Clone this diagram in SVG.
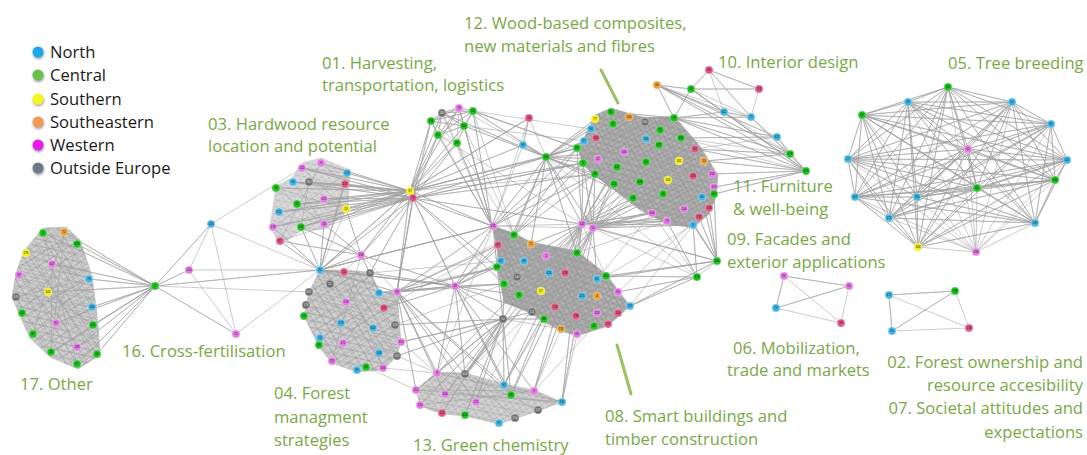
<svg xmlns="http://www.w3.org/2000/svg" width="1087" height="455" viewBox="0 0 1087 455">
<style>
.lbl{font-family:'Open Sans','Liberation Sans',sans-serif;font-size:16.6px;fill:#79a846}
.leg{font-family:'Open Sans','Liberation Sans',sans-serif;font-size:16.6px;fill:#1a1a1a}
.e{stroke:#a0a0a0;stroke-width:0.55;fill:none}
.hull{stroke:#b4b4b4;stroke-width:0.5}
.nd circle{r:4;stroke:#fff;stroke-width:0.3}
.nd text{font-family:'Liberation Sans',sans-serif;font-size:3px;text-anchor:middle;fill:#1a1a1a}
.g circle{fill:#1ec31e}.b circle{fill:#42b7e6}.m circle{fill:#e57ae6}.r circle{fill:#e0577f}.o circle{fill:#eea23c}.y circle{fill:#f3ee18}.k circle{fill:#6f6f6f}
.k text{fill:#e0e0e0}
.ptr{stroke:#9cc064;stroke-width:3;stroke-linecap:round}
</style>
<defs>
<pattern id="pd" width="6" height="6" patternUnits="userSpaceOnUse" patternTransform="rotate(17)"><rect width="6" height="6" fill="#b2b2b2"/><path d="M0 0L6 6M6 0L0 6M0 3H6" stroke="#888" stroke-width="0.5"/></pattern>
<pattern id="pr" width="9" height="9" patternUnits="userSpaceOnUse" patternTransform="rotate(-31)"><path d="M0 0L9 9M0 4.5H9M4.5 0V9" stroke="#959595" stroke-width="0.45" fill="none"/></pattern>
<pattern id="pl" width="7" height="7" patternUnits="userSpaceOnUse" patternTransform="rotate(11)"><rect width="7" height="7" fill="#d2d2d2"/><path d="M0 0L7 7M7 0L0 7M0 3.5H7" stroke="#a0a0a0" stroke-width="0.5"/></pattern>
<filter id="sh" x="-50%" y="-50%" width="200%" height="200%"><feDropShadow dx="0.5" dy="1.5" stdDeviation="1" flood-color="#555" flood-opacity="0.6"/></filter>
</defs>
<rect width="1087" height="455" fill="#fff"/>

<g id="legend">
<g filter="url(#sh)">
<circle cx="38" cy="52" r="5.5" fill="#1aa7ec"/>
<circle cx="38" cy="75" r="5.5" fill="#6cc04a"/>
<circle cx="38" cy="99" r="5.5" fill="#f4f41a"/>
<circle cx="38" cy="122" r="5.5" fill="#f09a56"/>
<circle cx="38" cy="145" r="5.5" fill="#e81ee8"/>
<circle cx="38" cy="168" r="5.5" fill="#6a7a8a"/>
</g>
<text class="leg" x="50" y="58">North</text>
<text class="leg" x="50" y="81">Central</text>
<text class="leg" x="50" y="105">Southern</text>
<text class="leg" x="50" y="128">Southeastern</text>
<text class="leg" x="50" y="151">Western</text>
<text class="leg" x="50" y="174">Outside Europe</text>
</g>

<g id="clusters">
<polygon class="hull" fill="url(#pl)" points="43,228 66,227 80,240 92,276 96,306 98,325 100,355 78,369 50,357 30,338 19,314 12,297 16,273 24,251"/>
<polygon fill="url(#pr)" points="43,228 66,227 80,240 92,276 96,306 98,325 100,355 78,369 50,357 30,338 19,314 12,297 16,273 24,251"/>
<polygon class="hull" fill="url(#pl)" opacity="0.8" points="302,163 321,158 350,170 348,210 326,229 301,231 280,245 270,227 276,186 292,178"/>
<polygon class="hull" fill="url(#pd)" points="577,146 584,138 595,115 611,108 645,118 674,116 700,146 718,175 716,197 709,214 693,228 667,224 640,210 614,190 595,176 583,165"/>
<polygon fill="url(#pr)" points="577,146 584,138 595,115 611,108 645,118 674,116 700,146 718,175 716,197 709,214 693,228 667,224 640,210 614,190 595,176 583,165"/>
<polygon class="hull" fill="url(#pd)" points="493,226 514,233 531,242 577,251 606,274 630,306 608,326 577,336 561,331 544,322 532,314 504,302 497,267 498,245"/>
<polygon fill="url(#pr)" points="493,226 514,233 531,242 577,251 606,274 630,306 608,326 577,336 561,331 544,322 532,314 504,302 497,267 498,245"/>
<polygon class="hull" fill="url(#pl)" points="309,292 320,270 344,270 370,272 380,292 397,292 401,342 397,356 383,370 357,372 332,363 319,347 304,316"/>
<polygon fill="url(#pr)" points="309,292 320,270 344,270 370,272 380,292 397,292 401,342 397,356 383,370 357,372 332,363 319,347 304,316"/>
<polygon class="hull" fill="url(#pl)" points="437,372 465,373 504,384 534,390 562,402 538,411 499,424 465,416 442,414 420,406 416,390"/>
</g>

<g id="connectors" class="e">
<path d="M155 286L43 233 155 286 64 232 155 286 77 244 155 286 52 264 155 286 89 279 155 286 48 292 155 286 92 307 155 286 56 323 155 286 93 325 155 286 97 354 155 286 77 364 155 286 77 347 155 286 51 352 155 286 211 224 155 286 189 270 155 286 236 334 155 286 320 270 155 286 309 292M211 224L189 270 236 334M211 224L236 334M211 224L320 270M189 270L320 270M236 334L320 270M211 224L302 168"/>
<path d="M43 233L77 364M64 232L33 334M26 253L97 354M19 275L93 325M89 279L22 313M16 297L92 307M52 264L51 352M77 244L26 253M48 292L93 325M43 233L92 307M64 232L51 352M77 244L22 313M26 253L89 279M19 275L77 347M16 297L89 279M56 323L77 244M33 334L89 279"/>
<path d="M410 191L302 168 410 191 321 163 410 191 347 173 410 191 293 182 410 191 309 182 410 191 345 184 410 191 276 188 410 191 324 199 410 191 297 204 410 191 346 209 410 191 279 212 410 191 324 224 410 191 301 227 410 191 273 227M413 198L302 168 413 198 293 182 413 198 345 184 413 198 324 199 413 198 297 204 413 198 346 209 413 198 279 212 413 198 324 224 413 198 301 227 413 198 273 227 413 198 280 241"/>
<path d="M302 168L346 209M321 163L280 241M293 182L324 224M347 173L273 227M276 188L346 209M309 182L301 227M302 168L347 173M321 163L345 184M290 182L345 184M276 188L324 224"/>
<path d="M320 270L280 241 320 270 301 227 320 270 324 224 320 270 273 227 320 270 346 209M361 255L324 224 361 255 346 209 361 255 301 227 361 255 280 241 361 255 410 191 361 255 413 198"/>
<path d="M410 191L431 121 410 191 438 135 410 191 442 113 410 191 457 143 410 191 464 126 410 191 459 108 410 191 546 157 410 191 523 145 410 191 529 118 410 191 577 148 410 191 583 163 410 191 492 226 410 191 320 270M413 198L431 121 413 198 438 135 413 198 457 143 413 198 546 157 413 198 492 226 413 198 455 286 413 198 397 292 413 198 504 284 413 198 497 267 413 198 583 163 413 198 595 174 413 198 582 224 413 198 370 273 413 198 361 255"/>
<path d="M442 113L459 108 442 113 473 111 442 113 431 121 442 113 464 126 442 113 438 135 442 113 457 143M459 108L473 111 459 108 431 121 459 108 464 126 459 108 438 135 459 108 457 143M473 111L431 121 473 111 464 126 473 111 438 135 473 111 457 143M431 121L464 126 431 121 438 135 431 121 457 143M464 126L438 135 464 126 457 143M438 135L457 143"/>
<path d="M473 111L546 157 473 111 577 148 473 111 492 226 473 111 514 235M459 108L492 226 459 108 546 157M464 126L492 226 464 126 546 157 464 126 514 235M457 143L492 226 457 143 514 235M438 135L492 226 438 135 582 224M431 121L492 226M442 113L546 157 442 113 492 226"/>
<path d="M529 118L523 145 529 118 546 157 523 145 546 157M529 118L492 226M523 145L492 226M529 118L410 191"/>
<path d="M546 157L577 148 546 157 583 163 546 157 584 141 546 157 591 129 546 157 595 119 546 157 611 112 546 157 595 174 546 157 598 159 546 157 614 184 546 157 633 198 546 157 624 152 546 157 582 224 546 157 593 228 546 157 492 226 546 157 514 235 546 157 531 244 546 157 577 253 546 157 501 261 546 157 697 277M577 148L473 111M584 141L464 126M591 129L473 111M583 163L413 198M595 174L410 191"/>
<path d="M582 224L583 163 582 224 595 174 582 224 614 184 582 224 633 198 582 224 652 213 582 224 667 221 582 224 598 159 582 224 624 152 582 224 617 167 582 224 640 182 582 224 663 194 582 224 646 162 582 224 577 148 582 224 693 225 582 224 699 217 582 224 684 209M593 228L583 163 593 228 595 174 593 228 614 184 593 228 633 198 593 228 652 213 593 228 667 221 593 228 640 182 593 228 663 194 593 228 693 225 593 228 702 197 593 228 709 208 593 228 668 180 593 228 617 167 593 228 646 162"/>
<path d="M582 224L437 373 582 224 465 374 582 224 504 385 582 224 511 395 582 224 534 391 582 224 562 402 582 224 476 402M593 228L465 374 593 228 504 385 593 228 534 391 593 228 562 402 593 228 511 395 593 228 445 394M582 224L531 244 582 224 546 256 582 224 577 253 582 224 524 261 582 224 549 273 582 224 606 276M593 228L597 279 593 228 577 253 593 228 546 256M582 224L493 226M593 228L493 226M593 228L717 261 593 228 697 277M582 224L717 261"/>
<path d="M493 226L514 235 493 226 498 245 493 226 531 244 493 226 501 261 493 226 497 267 493 226 524 261 493 226 546 256 493 226 504 284 493 226 517 277 493 226 541 291 493 226 519 295 493 226 583 163 493 226 577 148 493 226 595 174 493 226 397 292 493 226 455 286 493 226 320 270 493 226 437 373M514 235L577 148 514 235 583 163 514 235 595 174 514 235 455 286 514 235 397 292"/>
<path d="M397 292L437 373 397 292 465 374 397 292 416 390 397 292 445 394 397 292 504 385 397 292 511 395 397 292 476 402 397 292 455 286 397 292 497 267 397 292 504 284 397 292 498 245 397 292 546 256 397 292 413 198 397 292 410 191 397 292 361 255"/>
<path d="M455 286L498 245 455 286 497 267 455 286 504 284 455 286 519 295 455 286 532 312 455 286 501 261 455 286 437 373 455 286 465 374 455 286 504 385 455 286 534 391 455 286 511 395 455 286 370 273 455 286 379 293 455 286 384 308 455 286 320 270 455 286 361 255 455 286 413 198"/>
<path d="M320 270L413 198 320 270 410 191 320 270 493 226 320 270 397 292 320 270 455 286 320 270 361 255 320 270 347 173 320 270 345 184"/>
<path d="M503 319L437 373 503 319 465 374 503 319 416 390 503 319 445 394 503 319 420 405 503 319 476 402 503 319 504 385 503 319 511 395 503 319 442 413 503 319 465 415 503 319 401 342 503 319 395 325 503 319 397 356 503 319 455 286 503 319 497 267 503 319 504 284 503 319 519 295 503 319 532 312 503 319 544 319 503 319 561 329"/>
<path d="M532 312L465 374M544 319L504 385M561 329L534 391M577 334L562 402M594 326L534 391M397 356L437 373M401 342L437 373M383 368L437 373M366 367L416 390M379 293L497 267M384 308L498 245M395 325L504 284M370 273L501 261M401 342L503 319"/>
<path d="M437 373L562 402M416 390L562 402M465 374L538 410M420 405L534 391M437 373L499 423M445 394L562 402M416 390L534 391M465 374L515 418M437 373L465 374M416 390L437 373M420 405L442 413M504 385L562 402"/>
<path d="M320 270L397 356M361 255L332 361M344 272L383 368M309 292L401 342M370 273L319 345M379 293L332 361M306 305L397 356M361 255L344 272M361 255L370 273M320 270L344 272M361 255L379 293"/>
<path d="M717 261L714 194 717 261 709 208 717 261 693 225 717 261 702 197 717 261 699 217 717 261 684 209 717 261 606 276 717 261 597 279 717 261 630 306 717 261 697 277M697 277L693 225 697 277 667 221 697 277 606 276 697 277 630 306 697 277 618 292 697 277 652 213M606 276L693 225M630 306L693 225M618 292L699 217M597 279L652 213M577 253L667 221"/>
<path d="M709 70L691 89 709 70 759 89 709 70 751 117 709 70 724 112M691 89L759 89 691 89 657 85 691 89 674 118 691 89 724 112 691 89 806 171 691 89 751 117M759 89L751 117M657 85L674 118 657 85 777 137 657 85 790 154 657 85 806 171 657 85 724 112 657 85 751 117M674 118L724 112 674 118 751 117 674 118 777 137 674 118 790 154 674 118 806 171 674 118 611 112 674 118 629 117 674 118 660 130 674 118 681 138 674 118 646 139 674 118 584 141 674 118 546 157M724 112L751 117 724 112 806 171 724 112 790 154M751 117L806 171 751 117 790 154M777 137L790 154 777 137 806 171M790 154L806 171M806 171L695 149 806 171 704 161 806 171 712 174 806 171 714 187 806 171 714 194 806 171 681 138M790 154L695 149 790 154 704 161 790 154 681 138M777 137L681 138 777 137 695 149"/>
<path d="M948 87L908 102 948 87 1012 102 948 87 862 115 948 87 1051 124 948 87 968 149 948 87 848 159 948 87 1067 160 948 87 1055 180 948 87 977 188 948 87 855 197 948 87 917 197 948 87 889 218 948 87 1035 223 948 87 918 247 948 87 976 252M908 102L1012 102 908 102 862 115 908 102 1051 124 908 102 968 149 908 102 848 159 908 102 1067 160 908 102 1055 180 908 102 977 188 908 102 855 197 908 102 917 197 908 102 889 218 908 102 1035 223 908 102 918 247 908 102 976 252M1012 102L862 115 1012 102 1051 124 1012 102 968 149 1012 102 848 159 1012 102 1067 160 1012 102 1055 180 1012 102 977 188 1012 102 855 197 1012 102 917 197 1012 102 889 218 1012 102 1035 223 1012 102 918 247 1012 102 976 252M862 115L1051 124 862 115 968 149 862 115 848 159 862 115 1067 160 862 115 1055 180 862 115 977 188 862 115 855 197 862 115 917 197 862 115 889 218 862 115 1035 223 862 115 918 247 862 115 976 252M1051 124L968 149 1051 124 848 159 1051 124 1067 160 1051 124 1055 180 1051 124 977 188 1051 124 855 197 1051 124 917 197 1051 124 889 218 1051 124 1035 223 1051 124 918 247 1051 124 976 252M968 149L848 159 968 149 1067 160 968 149 1055 180 968 149 977 188 968 149 855 197 968 149 917 197 968 149 889 218 968 149 1035 223 968 149 918 247 968 149 976 252M848 159L1067 160 848 159 1055 180 848 159 977 188 848 159 855 197 848 159 917 197 848 159 889 218 848 159 1035 223 848 159 918 247 848 159 976 252M1067 160L1055 180 1067 160 977 188 1067 160 855 197 1067 160 917 197 1067 160 889 218 1067 160 1035 223 1067 160 918 247 1067 160 976 252M1055 180L977 188 1055 180 855 197 1055 180 917 197 1055 180 889 218 1055 180 1035 223 1055 180 918 247 1055 180 976 252M977 188L855 197 977 188 917 197 977 188 889 218 977 188 1035 223 977 188 918 247 977 188 976 252M855 197L917 197 855 197 889 218 855 197 1035 223 855 197 918 247 855 197 976 252M917 197L889 218 917 197 1035 223 917 197 918 247 917 197 976 252M889 218L1035 223 889 218 918 247 889 218 976 252M1035 223L918 247 1035 223 976 252M918 247L976 252"/>
<path d="M784 276L849 286 784 276 776 308 784 276 841 323M849 286L776 308 849 286 841 323M776 308L841 323"/>
<path d="M889 295L955 291 889 295 892 331 889 295 969 328M955 291L892 331 955 291 969 328M892 331L969 328"/>
</g>

<g id="nodes">
<g id="n17-0" class="nd g"><circle cx="43" cy="233"/><text x="43" y="234">0</text></g>
<g id="n17-72" class="nd o"><circle cx="64" cy="232"/><text x="64" y="233">72</text></g>
<g id="n17-618" class="nd g"><circle cx="77" cy="244"/><text x="77" y="245">618</text></g>
<g id="n17-176" class="nd y"><circle cx="26" cy="253"/><text x="26" y="254">176</text></g>
<g id="n17-647" class="nd m"><circle cx="52" cy="264"/><text x="52" y="265">647</text></g>
<g id="n17-37" class="nd m"><circle cx="19" cy="275"/><text x="19" y="276">37</text></g>
<g id="n17-73" class="nd b"><circle cx="89" cy="279"/><text x="89" y="280">73</text></g>
<g id="n17-676" class="nd k"><circle cx="16" cy="297"/><text x="16" y="298">676</text></g>
<g id="n17-102" class="nd y"><circle cx="48" cy="292"/><text x="48" y="293">102</text></g>
<g id="n17-104" class="nd b"><circle cx="92" cy="307"/><text x="92" y="308">104</text></g>
<g id="n17-40" class="nd g"><circle cx="22" cy="313"/><text x="22" y="314">40</text></g>
<g id="n17-91" class="nd m"><circle cx="56" cy="323"/><text x="56" y="324">91</text></g>
<g id="n17-620" class="nd g"><circle cx="93" cy="325"/><text x="93" y="326">620</text></g>
<g id="n17-47" class="nd g"><circle cx="33" cy="334"/><text x="33" y="335">47</text></g>
<g id="n17-26" class="nd g"><circle cx="51" cy="352"/><text x="51" y="353">26</text></g>
<g id="n17-138" class="nd m"><circle cx="77" cy="347"/><text x="77" y="348">138</text></g>
<g id="n17-19" class="nd g"><circle cx="97" cy="354"/><text x="97" y="355">19</text></g>
<g id="n17-67" class="nd g"><circle cx="77" cy="364"/><text x="77" y="365">67</text></g>
<g id="n16-2" class="nd g"><circle cx="155" cy="286"/><text x="155" y="287">2</text></g>
<g id="n16-144" class="nd b"><circle cx="211" cy="224"/><text x="211" y="225">144</text></g>
<g id="n16-120" class="nd m"><circle cx="189" cy="270"/><text x="189" y="271">120</text></g>
<g id="n16-15" class="nd m"><circle cx="236" cy="334"/><text x="236" y="335">15</text></g>

<g id="n03-141" class="nd m"><circle cx="302" cy="168"/><text x="302" y="169">141</text></g>
<g id="n03-9" class="nd m"><circle cx="321" cy="163"/><text x="321" y="164">9</text></g>
<g id="n03-174" class="nd b"><circle cx="347" cy="173"/><text x="347" y="174">174</text></g>
<g id="n03-90" class="nd b"><circle cx="293" cy="182"/><text x="293" y="183">90</text></g>
<g id="n03-180" class="nd k"><circle cx="309" cy="182"/><text x="309" y="183">180</text></g>
<g id="n03-157" class="nd r"><circle cx="345" cy="184"/><text x="345" y="185">157</text></g>
<g id="n03-78" class="nd g"><circle cx="276" cy="188"/><text x="276" y="189">78</text></g>
<g id="n03-611" class="nd m"><circle cx="324" cy="199"/><text x="324" y="200">611</text></g>
<g id="n03-24a" class="nd g"><circle cx="297" cy="204"/><text x="297" y="205">24</text></g>
<g id="n03-24b" class="nd y"><circle cx="346" cy="209"/><text x="346" y="210">24</text></g>
<g id="n03-615" class="nd b"><circle cx="279" cy="212"/><text x="279" y="213">615</text></g>
<g id="n03-18" class="nd m"><circle cx="324" cy="224"/><text x="324" y="225">18</text></g>
<g id="n03-145" class="nd g"><circle cx="301" cy="227"/><text x="301" y="228">145</text></g>
<g id="n03-179" class="nd m"><circle cx="273" cy="227"/><text x="273" y="228">179</text></g>
<g id="n03-87" class="nd r"><circle cx="280" cy="241"/><text x="280" y="242">87</text></g>
<g id="n-27" class="nd y"><circle cx="410" cy="191"/><text x="410" y="192">27</text></g>
<g id="n-75r" class="nd r"><circle cx="413" cy="198"/><text x="413" y="199">75</text></g>

<g id="n01-182" class="nd k"><circle cx="442" cy="113"/><text x="442" y="114">182</text></g>
<g id="n01-78" class="nd m"><circle cx="459" cy="108"/><text x="459" y="109">78</text></g>
<g id="n01-80" class="nd g"><circle cx="473" cy="111"/><text x="473" y="112">80</text></g>
<g id="n01-136" class="nd g"><circle cx="431" cy="121"/><text x="431" y="122">136</text></g>
<g id="n01-600" class="nd g"><circle cx="464" cy="126"/><text x="464" y="127">600</text></g>
<g id="n01-60" class="nd g"><circle cx="438" cy="135"/><text x="438" y="136">60</text></g>
<g id="n01-83" class="nd g"><circle cx="457" cy="143"/><text x="457" y="144">83</text></g>
<g id="n-28r" class="nd r"><circle cx="529" cy="118"/><text x="529" y="119">28</text></g>
<g id="n-98b" class="nd b"><circle cx="523" cy="145"/><text x="523" y="146">98</text></g>
<g id="n-159" class="nd g"><circle cx="546" cy="157"/><text x="546" y="158">159</text></g>

<g id="n12-81" class="nd g"><circle cx="611" cy="112"/><text x="611" y="113">81</text></g>
<g id="n12-77" class="nd y"><circle cx="595" cy="119"/><text x="595" y="120">77</text></g>
<g id="n12-604" class="nd o"><circle cx="629" cy="117"/><text x="629" y="118">604</text></g>
<g id="n12-605" class="nd k"><circle cx="645" cy="122"/><text x="645" y="123">605</text></g>
<g id="n12-78" class="nd g"><circle cx="674" cy="118"/><text x="674" y="119">78</text></g>
<g id="n12-32" class="nd g"><circle cx="613" cy="124"/><text x="613" y="125">32</text></g>
<g id="n12-94" class="nd b"><circle cx="591" cy="129"/><text x="591" y="130">94</text></g>
<g id="n12-161" class="nd r"><circle cx="596" cy="138"/><text x="596" y="139">161</text></g>
<g id="n12-37" class="nd b"><circle cx="584" cy="141"/><text x="584" y="142">37</text></g>
<g id="n12-75" class="nd g"><circle cx="660" cy="130"/><text x="660" y="131">75</text></g>
<g id="n12-700" class="nd b"><circle cx="646" cy="139"/><text x="646" y="140">700</text></g>
<g id="n12-602" class="nd g"><circle cx="681" cy="138"/><text x="681" y="139">602</text></g>
<g id="n12-83" class="nd g"><circle cx="577" cy="148"/><text x="577" y="149">83</text></g>
<g id="n12-627" class="nd g"><circle cx="659" cy="145"/><text x="659" y="146">627</text></g>
<g id="n12-100" class="nd m"><circle cx="624" cy="152"/><text x="624" y="153">100</text></g>
<g id="n12-82" class="nd r"><circle cx="695" cy="149"/><text x="695" y="150">82</text></g>
<g id="n12-5" class="nd g"><circle cx="583" cy="163"/><text x="583" y="164">5</text></g>
<g id="n12-21" class="nd m"><circle cx="598" cy="159"/><text x="598" y="160">21</text></g>
<g id="n12-127" class="nd g"><circle cx="617" cy="167"/><text x="617" y="168">127</text></g>
<g id="n12-50" class="nd g"><circle cx="646" cy="162"/><text x="646" y="163">50</text></g>
<g id="n12-161y" class="nd y"><circle cx="679" cy="161"/><text x="679" y="162">161</text></g>
<g id="n12-53" class="nd o"><circle cx="704" cy="161"/><text x="704" y="162">53</text></g>
<g id="n12-38" class="nd g"><circle cx="595" cy="174"/><text x="595" y="175">38</text></g>
<g id="n12-163" class="nd r"><circle cx="693" cy="176"/><text x="693" y="177">163</text></g>
<g id="n12-153" class="nd m"><circle cx="712" cy="174"/><text x="712" y="175">153</text></g>
<g id="n12-120" class="nd g"><circle cx="614" cy="184"/><text x="614" y="185">120</text></g>
<g id="n12-626" class="nd g"><circle cx="640" cy="182"/><text x="640" y="183">626</text></g>
<g id="n12-102" class="nd y"><circle cx="668" cy="180"/><text x="668" y="181">102</text></g>
<g id="n12-179" class="nd m"><circle cx="714" cy="187"/><text x="714" y="188">179</text></g>
<g id="n12-58" class="nd g"><circle cx="633" cy="198"/><text x="633" y="199">58</text></g>
<g id="n12-56" class="nd g"><circle cx="663" cy="194"/><text x="663" y="195">56</text></g>
<g id="n12-46" class="nd b"><circle cx="702" cy="197"/><text x="702" y="198">46</text></g>
<g id="n12-60" class="nd g"><circle cx="714" cy="194"/><text x="714" y="195">60</text></g>
<g id="n12-106" class="nd m"><circle cx="684" cy="209"/><text x="684" y="210">106</text></g>
<g id="n12-108" class="nd r"><circle cx="709" cy="208"/><text x="709" y="209">108</text></g>
<g id="n12-604m" class="nd m"><circle cx="652" cy="213"/><text x="652" y="214">604</text></g>
<g id="n12-73" class="nd m"><circle cx="667" cy="221"/><text x="667" y="222">73</text></g>
<g id="n12-152" class="nd r"><circle cx="699" cy="217"/><text x="699" y="218">152</text></g>
<g id="n12-6" class="nd b"><circle cx="693" cy="225"/><text x="693" y="226">6</text></g>
<g id="n-142" class="nd m"><circle cx="582" cy="224"/><text x="582" y="225">142</text></g>
<g id="n-51" class="nd m"><circle cx="593" cy="228"/><text x="593" y="229">51</text></g>

<g id="n10-66r" class="nd r"><circle cx="709" cy="70"/><text x="709" y="71">66</text></g>
<g id="n10-66o" class="nd o"><circle cx="657" cy="85"/><text x="657" y="86">66</text></g>
<g id="n10-23" class="nd g"><circle cx="691" cy="89"/><text x="691" y="90">23</text></g>
<g id="n10-158" class="nd r"><circle cx="759" cy="89"/><text x="759" y="90">158</text></g>
<g id="n10-612" class="nd b"><circle cx="724" cy="112"/><text x="724" y="113">612</text></g>
<g id="n10-75" class="nd b"><circle cx="751" cy="117"/><text x="751" y="118">75</text></g>
<g id="n10-611" class="nd b"><circle cx="777" cy="137"/><text x="777" y="138">611</text></g>
<g id="n11-178" class="nd g"><circle cx="790" cy="154"/><text x="790" y="155">178</text></g>
<g id="n11-619" class="nd g"><circle cx="806" cy="171"/><text x="806" y="172">619</text></g>
<g id="n09-604" class="nd g"><circle cx="717" cy="261"/><text x="717" y="262">604</text></g>
<g id="n09-118" class="nd g"><circle cx="697" cy="277"/><text x="697" y="278">118</text></g>

<g id="n08-132" class="nd m"><circle cx="493" cy="226"/><text x="493" y="227">132</text></g>
<g id="n08-61" class="nd g"><circle cx="514" cy="235"/><text x="514" y="236">61</text></g>
<g id="n08-87" class="nd r"><circle cx="498" cy="245"/><text x="498" y="246">87</text></g>
<g id="n08-71o" class="nd o"><circle cx="531" cy="244"/><text x="531" y="245">71</text></g>
<g id="n08-2" class="nd m"><circle cx="546" cy="256"/><text x="546" y="257">2</text></g>
<g id="n08-62g" class="nd g"><circle cx="577" cy="253"/><text x="577" y="254">62</text></g>
<g id="n08-62b" class="nd b"><circle cx="501" cy="261"/><text x="501" y="262">62</text></g>
<g id="n08-49" class="nd b"><circle cx="524" cy="261"/><text x="524" y="262">49</text></g>
<g id="n08-139" class="nd g"><circle cx="497" cy="267"/><text x="497" y="268">139</text></g>
<g id="n08-624" class="nd b"><circle cx="549" cy="273"/><text x="549" y="274">624</text></g>
<g id="n08-138" class="nd r"><circle cx="565" cy="273"/><text x="565" y="274">138</text></g>
<g id="n08-140" class="nd k"><circle cx="517" cy="277"/><text x="517" y="278">140</text></g>
<g id="n08-65" class="nd b"><circle cx="597" cy="279"/><text x="597" y="280">65</text></g>
<g id="n08-110" class="nd g"><circle cx="606" cy="276"/><text x="606" y="277">110</text></g>
<g id="n08-75" class="nd g"><circle cx="504" cy="284"/><text x="504" y="285">75</text></g>
<g id="n08-67" class="nd y"><circle cx="541" cy="291"/><text x="541" y="292">67</text></g>
<g id="n08-71g" class="nd g"><circle cx="519" cy="295"/><text x="519" y="296">71</text></g>
<g id="n08-113" class="nd b"><circle cx="582" cy="296"/><text x="582" y="297">113</text></g>
<g id="n08-4" class="nd o"><circle cx="597" cy="296"/><text x="597" y="297">4</text></g>
<g id="n08-95a" class="nd m"><circle cx="618" cy="292"/><text x="618" y="293">95</text></g>
<g id="n08-124" class="nd r"><circle cx="555" cy="307"/><text x="555" y="308">124</text></g>
<g id="n08-157" class="nd b"><circle cx="630" cy="306"/><text x="630" y="307">157</text></g>
<g id="n08-121" class="nd k"><circle cx="532" cy="312"/><text x="532" y="313">121</text></g>
<g id="n08-118" class="nd m"><circle cx="597" cy="313"/><text x="597" y="314">118</text></g>
<g id="n08-106" class="nd r"><circle cx="618" cy="313"/><text x="618" y="314">106</text></g>
<g id="n08-96" class="nd g"><circle cx="544" cy="319"/><text x="544" y="320">96</text></g>
<g id="n08-136" class="nd r"><circle cx="576" cy="316"/><text x="576" y="317">136</text></g>
<g id="n08-127" class="nd r"><circle cx="608" cy="324"/><text x="608" y="325">127</text></g>
<g id="n08-42" class="nd g"><circle cx="594" cy="326"/><text x="594" y="327">42</text></g>
<g id="n08-152" class="nd o"><circle cx="561" cy="329"/><text x="561" y="330">152</text></g>
<g id="n08-95b" class="nd m"><circle cx="577" cy="334"/><text x="577" y="335">95</text></g>
<g id="n08-54" class="nd k"><circle cx="503" cy="319"/><text x="503" y="320">54</text></g>

<g id="n04-158" class="nd m"><circle cx="361" cy="255"/><text x="361" y="256">158</text></g>
<g id="n04-40" class="nd b"><circle cx="320" cy="270"/><text x="320" y="271">40</text></g>
<g id="n04-50" class="nd r"><circle cx="344" cy="272"/><text x="344" y="273">50</text></g>
<g id="n04-26k" class="nd k"><circle cx="370" cy="273"/><text x="370" y="274">26</text></g>
<g id="n04-21" class="nd k"><circle cx="330" cy="284"/><text x="330" y="285">21</text></g>
<g id="n04-12" class="nd b"><circle cx="379" cy="293"/><text x="379" y="294">12</text></g>
<g id="n04-98" class="nd m"><circle cx="397" cy="292"/><text x="397" y="293">98</text></g>
<g id="n04-28" class="nd m"><circle cx="455" cy="286"/><text x="455" y="287">28</text></g>
<g id="n04-607" class="nd k"><circle cx="309" cy="292"/><text x="309" y="293">607</text></g>
<g id="n04-170" class="nd m"><circle cx="346" cy="302"/><text x="346" y="303">170</text></g>
<g id="n04-101" class="nd r"><circle cx="384" cy="308"/><text x="384" y="309">101</text></g>
<g id="n04-174" class="nd k"><circle cx="306" cy="305"/><text x="306" y="306">174</text></g>
<g id="n04-26g" class="nd g"><circle cx="304" cy="316"/><text x="304" y="317">26</text></g>
<g id="n04-173" class="nd b"><circle cx="341" cy="323"/><text x="341" y="324">173</text></g>
<g id="n04-602" class="nd b"><circle cx="373" cy="328"/><text x="373" y="329">602</text></g>
<g id="n04-120" class="nd k"><circle cx="395" cy="325"/><text x="395" y="326">120</text></g>
<g id="n04-14" class="nd b"><circle cx="320" cy="338"/><text x="320" y="339">14</text></g>
<g id="n04-66" class="nd g"><circle cx="319" cy="345"/><text x="319" y="346">66</text></g>
<g id="n04-171" class="nd m"><circle cx="343" cy="343"/><text x="343" y="344">171</text></g>
<g id="n04-114" class="nd m"><circle cx="401" cy="342"/><text x="401" y="343">114</text></g>
<g id="n04-104" class="nd b"><circle cx="379" cy="353"/><text x="379" y="354">104</text></g>
<g id="n04-162" class="nd k"><circle cx="397" cy="356"/><text x="397" y="357">162</text></g>
<g id="n04-111" class="nd m"><circle cx="332" cy="361"/><text x="332" y="362">111</text></g>
<g id="n04-53" class="nd g"><circle cx="366" cy="367"/><text x="366" y="368">53</text></g>
<g id="n04-95" class="nd b"><circle cx="357" cy="370"/><text x="357" y="371">95</text></g>
<g id="n04-106" class="nd m"><circle cx="383" cy="368"/><text x="383" y="369">106</text></g>

<g id="n13-9a" class="nd m"><circle cx="437" cy="373"/><text x="437" y="374">9</text></g>
<g id="n13-608" class="nd k"><circle cx="465" cy="374"/><text x="465" y="375">608</text></g>
<g id="n13-115" class="nd m"><circle cx="416" cy="390"/><text x="416" y="391">115</text></g>
<g id="n13-92" class="nd b"><circle cx="504" cy="385"/><text x="504" y="386">92</text></g>
<g id="n13-104" class="nd m"><circle cx="445" cy="394"/><text x="445" y="395">104</text></g>
<g id="n13-58" class="nd g"><circle cx="511" cy="395"/><text x="511" y="396">58</text></g>
<g id="n13-9b" class="nd m"><circle cx="534" cy="391"/><text x="534" y="392">9</text></g>
<g id="n13-171" class="nd m"><circle cx="476" cy="402"/><text x="476" y="403">171</text></g>
<g id="n13-130" class="nd m"><circle cx="420" cy="405"/><text x="420" y="406">130</text></g>
<g id="n13-131" class="nd b"><circle cx="562" cy="402"/><text x="562" y="403">131</text></g>
<g id="n13-116" class="nd r"><circle cx="442" cy="413"/><text x="442" y="414">116</text></g>
<g id="n13-612" class="nd g"><circle cx="465" cy="415"/><text x="465" y="416">612</text></g>
<g id="n13-127" class="nd k"><circle cx="538" cy="410"/><text x="538" y="411">127</text></g>
<g id="n13-154" class="nd k"><circle cx="515" cy="418"/><text x="515" y="419">154</text></g>
<g id="n13-97" class="nd b"><circle cx="499" cy="423"/><text x="499" y="424">97</text></g>

<g id="n05-24" class="nd g"><circle cx="948" cy="87"/><text x="948" y="88">24</text></g>
<g id="n05-38" class="nd b"><circle cx="908" cy="102"/><text x="908" y="103">38</text></g>
<g id="n05-42" class="nd b"><circle cx="1012" cy="102"/><text x="1012" y="103">42</text></g>
<g id="n05-28" class="nd g"><circle cx="862" cy="115"/><text x="862" y="116">28</text></g>
<g id="n05-80" class="nd b"><circle cx="1051" cy="124"/><text x="1051" y="125">80</text></g>
<g id="n05-61" class="nd m"><circle cx="968" cy="149"/><text x="968" y="150">61</text></g>
<g id="n05-17" class="nd b"><circle cx="848" cy="159"/><text x="848" y="160">17</text></g>
<g id="n05-102" class="nd b"><circle cx="1067" cy="160"/><text x="1067" y="161">102</text></g>
<g id="n05-606" class="nd g"><circle cx="1055" cy="180"/><text x="1055" y="181">606</text></g>
<g id="n05-65" class="nd g"><circle cx="977" cy="188"/><text x="977" y="189">65</text></g>
<g id="n05-107" class="nd b"><circle cx="855" cy="197"/><text x="855" y="198">107</text></g>
<g id="n05-705" class="nd b"><circle cx="917" cy="197"/><text x="917" y="198">705</text></g>
<g id="n05-172" class="nd b"><circle cx="889" cy="218"/><text x="889" y="219">172</text></g>
<g id="n05-159" class="nd b"><circle cx="1035" cy="223"/><text x="1035" y="224">159</text></g>
<g id="n05-160" class="nd y"><circle cx="918" cy="247"/><text x="918" y="248">160</text></g>
<g id="n05-168" class="nd m"><circle cx="976" cy="252"/><text x="976" y="253">168</text></g>

<g id="n06-92" class="nd m"><circle cx="784" cy="276"/><text x="784" y="277">92</text></g>
<g id="n06-63" class="nd m"><circle cx="849" cy="286"/><text x="849" y="287">63</text></g>
<g id="n06-73" class="nd b"><circle cx="776" cy="308"/><text x="776" y="309">73</text></g>
<g id="n06-99" class="nd r"><circle cx="841" cy="323"/><text x="841" y="324">99</text></g>
<g id="n02-177" class="nd b"><circle cx="889" cy="295"/><text x="889" y="296">177</text></g>
<g id="n02-139" class="nd g"><circle cx="955" cy="291"/><text x="955" y="292">139</text></g>
<g id="n02-20" class="nd b"><circle cx="892" cy="331"/><text x="892" y="332">20</text></g>
<g id="n02-140" class="nd r"><circle cx="969" cy="328"/><text x="969" y="329">140</text></g>
</g>

<g id="pointers">
<line class="ptr" x1="601" y1="70" x2="618" y2="103"/>
<line class="ptr" x1="617" y1="345" x2="631" y2="394"/>
</g>

<g id="labels">
<text class="lbl" x="464" y="29">12. Wood-based composites,</text>
<text class="lbl" x="464" y="52">new materials and fibres</text>
<text class="lbl" x="322" y="69">01. Harvesting,</text>
<text class="lbl" x="322" y="91">transportation, logistics</text>
<text class="lbl" x="718" y="68">10. Interior design</text>
<text class="lbl" x="948" y="69">05. Tree breeding</text>
<text class="lbl" x="208" y="130">03. Hardwood resource</text>
<text class="lbl" x="208" y="152">location and potential</text>
<text class="lbl" x="733" y="192">11. Furniture</text>
<text class="lbl" x="733" y="215">&amp; well-being</text>
<text class="lbl" x="727" y="245">09. Facades and</text>
<text class="lbl" x="727" y="268">exterior applications</text>
<text class="lbl" x="122" y="357">16. Cross-fertilisation</text>
<text class="lbl" x="20" y="390">17. Other</text>
<text class="lbl" x="274" y="399">04. Forest</text>
<text class="lbl" x="274" y="423">managment</text>
<text class="lbl" x="274" y="446">strategies</text>
<text class="lbl" x="413" y="451">13. Green chemistry</text>
<text class="lbl" x="733" y="354">06. Mobilization,</text>
<text class="lbl" x="727" y="376">trade and markets</text>
<text class="lbl" x="1083" y="368" text-anchor="end">02. Forest ownership and</text>
<text class="lbl" x="1083" y="391" text-anchor="end">resource accesibility</text>
<text class="lbl" x="1083" y="414" text-anchor="end">07. Societal attitudes and</text>
<text class="lbl" x="1083" y="438" text-anchor="end">expectations</text>
<text class="lbl" x="605" y="422">08. Smart buildings and</text>
<text class="lbl" x="605" y="445">timber construction</text>
</g>
</svg>
